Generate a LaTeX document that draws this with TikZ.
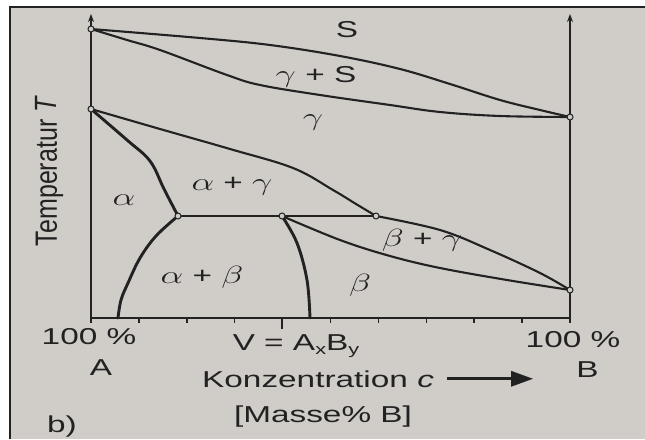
\documentclass[tikz,border=0pt]{standalone}
\usepackage{fontspec}
\setmainfont{Liberation Sans}
\usepackage{graphicx}
\usetikzlibrary{arrows.meta}
\definecolor{paper}{RGB}{208,205,201}
\definecolor{ink}{RGB}{34,34,34}
\newcommand{\wx}[1]{\scalebox{1.45}[1]{#1}}
\newcommand{\gk}[1]{$#1$}
\begin{document}
\begin{tikzpicture}[x=1pt,y=-1pt,
  lbl/.style={inner sep=0pt, text=ink, font=\fontsize{23}{26}\selectfont, anchor=base},
  pline/.style={draw=ink, line width=2.1pt, line join=round, line cap=round},
  tline/.style={draw=ink, line width=2.9pt, line join=round, line cap=round},
  axisline/.style={draw=ink, line width=1.5pt},
  pt/.style={circle, draw=ink, fill=paper, line width=1pt, minimum size=6pt, inner sep=0pt},
]
\useasboundingbox (0,0) rectangle (645,439);
\fill[white] (0,0) rectangle (645,439);
\fill[paper] (10,7) rectangle (645,439);
\draw[ink, line width=1.6pt] (10,439) -- (10,7) -- (645,7);

% key points
\coordinate (O) at (91,318);
\coordinate (R) at (570,318);
\coordinate (Otop) at (91,14);
\coordinate (Rtop) at (570,14);
\coordinate (Obot) at (91,323);
\coordinate (Rbot) at (570,323);
\coordinate (TA) at (91,29);
\coordinate (TB) at (570,117);
\coordinate (MA) at (91,109);
\coordinate (MB) at (570,290);
\coordinate (E) at (178,216);
\coordinate (V) at (282,216);
\coordinate (P) at (376,216);
\coordinate (Ea) at (118,318);
\coordinate (Vb) at (310,318);

% axes
\draw[axisline, -{Stealth[length=8pt,width=6pt]}] (Obot) -- (Otop);
\draw[axisline, -{Stealth[length=8pt,width=6pt]}] (Rbot) -- (Rtop);
\draw[axisline] (O) -- (R);
\foreach \k in {1,...,9} \draw[axisline] ({91+47.9*\k},318) -- ++(0,5);
\draw[axisline] (V |- O) -- ++(0,11);

% liquid / gamma
\draw[pline] plot[smooth, tension=0.6] coordinates {(TA) (200,38) (270,45) (340,56) (400,69) (450,84) (500,100) (540,110) (TB)};
\draw[pline] plot[smooth, tension=0.6] coordinates {(TA) (127,40) (160,50) (227,75) (260,85) (320,95) (390,105) (440,112) (500,116) (TB)};
% gamma / alpha+gamma
\draw[pline] plot[smooth, tension=0.6] coordinates {(MA) (160,129) (230,149) (293,168) (333,190) (356,204) (P)};
% beta+gamma upper
\draw[pline] plot[smooth, tension=0.6] coordinates {(P) (440,230) (490,250) (540,273) (MB)};
% beta+gamma lower
\draw[pline] plot[smooth, tension=0.6] coordinates {(V) (340,240) (390,256) (440,268) (507,280) (MB)};
% horizontal
\draw[pline] (E) -- (V) -- (P);
% alpha boundaries
\draw[tline] plot[smooth, tension=0.6] coordinates {(MA) (127,140) (150,161) (164,189) (E)};
\draw[tline] plot[smooth, tension=0.6] coordinates {(E) (156,236) (140,258) (128,283) (121,300) (Ea)};
% V line
\draw[tline] plot[smooth, tension=0.6] coordinates {(V) (297,243) (307,280) (Vb)};

% circles
\foreach \p in {TA,TB,MA,MB,E,V,P} \node[pt] (c\p) at (\p) {};

% region labels
\node[lbl] (lS) at (347,37) {\wx{S}};
\node[lbl] (lgS) at (316,82) {\wx{\gk{\gamma} + S}};
\node[lbl] (lg) at (313,125) {\wx{\gk{\gamma}}};
\node[lbl] (la) at (124,205) {\wx{\gk{\alpha}}};
\node[lbl] (lag) at (232,190) {\wx{\gk{\alpha} + \gk{\gamma}}};
\node[lbl] (lab) at (202,283) {\wx{\gk{\alpha} + \gk{\beta}}};
\node[lbl] (lb) at (360,291) {\wx{\gk{\beta}}};
\node[lbl] (lbg) at (422,246) {\wx{\gk{\beta} + \gk{\gamma}}};

% axis labels
\node[lbl] (pA) at (89,344) {\wx{100 \%}};
\node[lbl] (pB) at (573,347) {\wx{100 \%}};
\node[lbl] (nA) at (101,375) {\wx{A}};
\node[lbl] (nB) at (587.5,377) {\wx{B}};
\node[lbl] (nV) at (296,350) {\wx{V = A\raisebox{-4pt}{\fontsize{15}{15}\selectfont x}B\raisebox{-4pt}{\fontsize{15}{15}\selectfont y}}};
\node[lbl, anchor=base west] (K) at (202,387) {\wx{Konzentration \textit{c}}};
\draw[ink, line width=3pt, -{Triangle[length=22pt,width=15pt]}] (K.east) ++(13,0) -- ++(86,0);
\node[lbl] (M) at (323,422) {\wx{[Masse\% B]}};
\node[lbl, anchor=base west] (bb) at (47,432) {\wx{b)}};
\node[inner sep=0pt, text=ink, font=\fontsize{25}{28}\selectfont] (T) at (49.5,171) {\scalebox{1.23}[1]{\rotatebox{90}{Temperatur \textit{T}}}};
\end{tikzpicture}
\end{document}
